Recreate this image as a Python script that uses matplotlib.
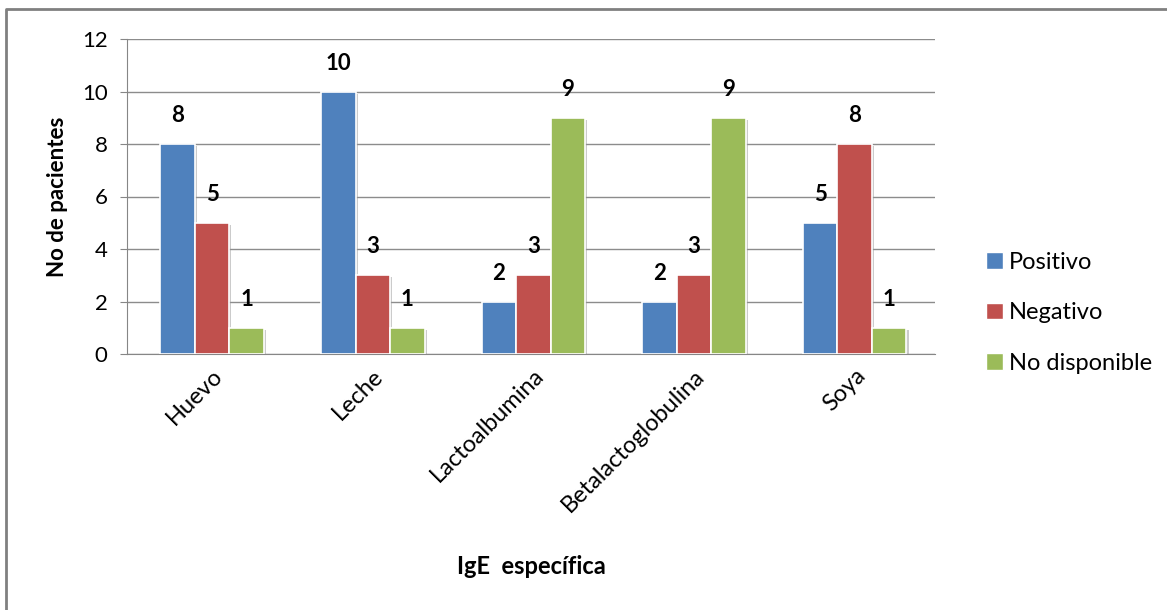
import matplotlib
matplotlib.use("Agg")
import matplotlib.pyplot as plt
import matplotlib.patheffects as pe
from matplotlib.lines import Line2D
import numpy as np

categories = ["Huevo", "Leche", "Lactoalbumina", "Betalactoglobulina", "Soya"]
series_names = ["Positivo", "Negativo", "No disponible"]
positivo = [8, 10, 2, 2, 5]
negativo = [5, 3, 3, 3, 8]
no_disponible = [1, 1, 9, 9, 1]
y_ticks = [0, 2, 4, 6, 8, 10, 12]

colors = ["#4F81BD", "#C0504D", "#9BBB59"]
font = ["Lato", "DejaVu Sans"]
plt.rcParams["font.family"] = font

W, H = 1167, 610
fig = plt.figure(figsize=(W / 100, H / 100), dpi=100)
ax = fig.add_axes([127 / W, 1 - 354 / H, (935 - 127) / W, (354 - 39) / H])

x = np.arange(len(categories))
bw = 0.215
shadow = [pe.SimplePatchShadow(offset=(1.5, -1.5), shadow_rgbFace="#999999", alpha=0.5), pe.Normal()]
for i, (vals, col, name) in enumerate(zip([positivo, negativo, no_disponible], colors, series_names)):
    pos = x + (i - 1) * bw
    bars = ax.bar(pos, vals, width=bw, color=col, edgecolor="white", linewidth=1.2,
                  label=name, zorder=3)
    for b in bars:
        b.set_path_effects(shadow)
    for px, v in zip(pos, vals):
        ax.text(px, v + 0.68, str(v), ha="center", va="bottom", fontsize=16,
                fontweight="bold", color="black")

ax.set_xlim(-0.53, len(categories) - 0.5)
ax.set_ylim(0, 12)
ax.set_yticks(y_ticks)
ax.tick_params(axis="y", labelsize=16, length=5, color="#868686", pad=9)
ax.tick_params(axis="x", length=0, labelsize=17, pad=8)
ax.set_xticks(x)
ax.set_xticklabels(categories, rotation=45, ha="right", rotation_mode="anchor")
ax.grid(axis="y", color="#8C8C8C", linewidth=1, zorder=0)
ax.set_axisbelow(True)
for s in ["top", "right"]:
    ax.spines[s].set_visible(False)
ax.spines["left"].set_color("#868686")
ax.spines["bottom"].set_color("#868686")

ax.set_ylabel("No de pacientes", fontsize=16, fontweight="bold", labelpad=10)
fig.text(531 / W, 1 - 567 / H, "IgE  específica", ha="center", va="center",
         fontsize=17, fontweight="bold")

handles = [plt.Rectangle((0, 0), 1, 1, facecolor=c, edgecolor="white") for c in colors]
fig.legend(handles, series_names, loc="center left", bbox_to_anchor=(965 / W, 1 - 313 / H),
           frameon=False, fontsize=17, handlelength=0.7, handleheight=0.7,
           handletextpad=0.25, labelspacing=1.25)

# chart frame (top and left edges)
fig.add_artist(Line2D([6 / W, 6 / W, 1.0], [0.0, 1 - 9 / H, 1 - 9 / H],
                      transform=fig.transFigure, color="#808080", linewidth=2))

fig.savefig("out.png", dpi=100)
